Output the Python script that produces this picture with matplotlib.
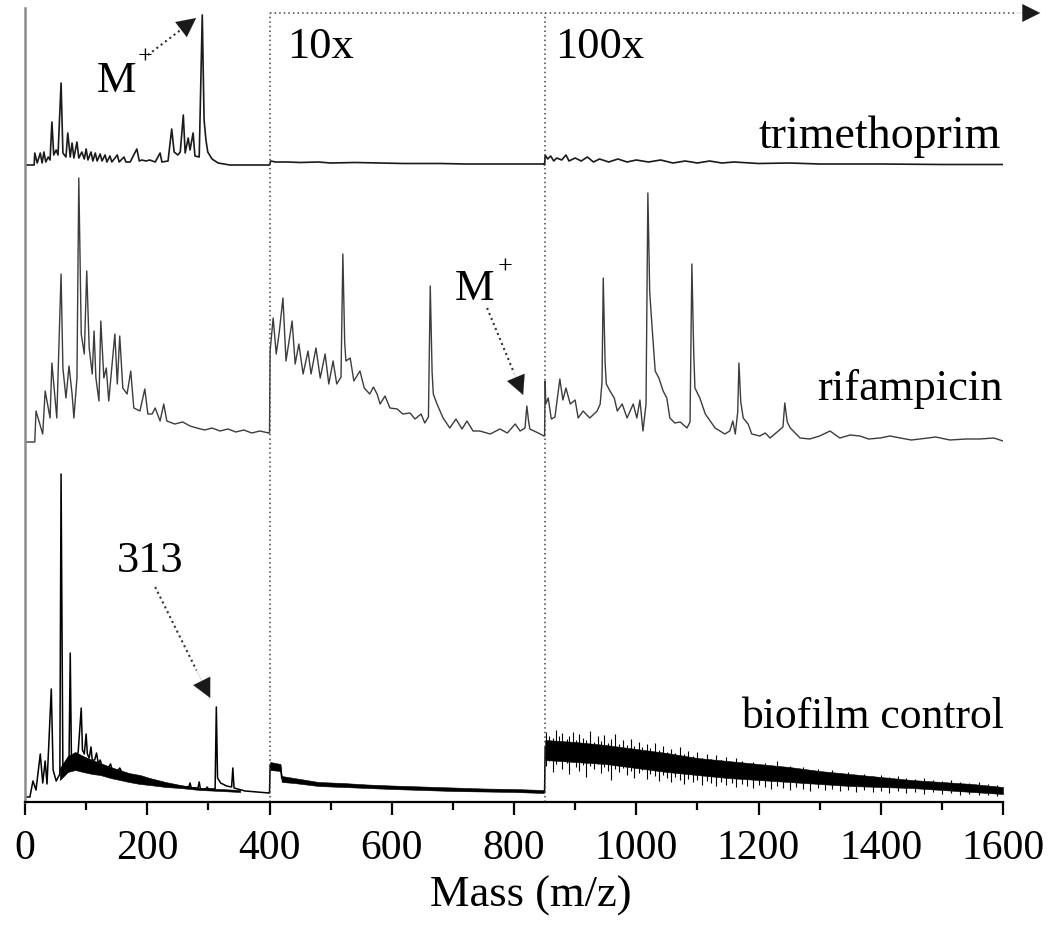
import numpy as np
import matplotlib
matplotlib.use('Agg')
import matplotlib.pyplot as plt
from matplotlib.ticker import MultipleLocator

plt.rcParams['font.family'] = ['Liberation Serif', 'DejaVu Serif']

# spectra: (m/z, intensity a.u.), each trace already scaled 1x / 10x / 100x
trimethoprim = [
    (0, 0), (15, 0), (16, 12), (20, 2), (25, 12), (28, 2), (31, 13), (34, 3), (38, 8), (41, 5),
    (44, 43), (47, 10), (51, 15), (54, 10), (59, 82), (62, 12), (67, 8), (70, 32), (74, 8),
    (77, 22), (80, 7), (85, 23), (88, 7), (93, 13), (97, 6), (100, 16), (103, 5), (108, 13),
    (111, 4), (115, 12), (118, 4), (123, 11), (126, 4), (131, 10), (134, 3), (139, 9), (142, 3),
    (151, 10), (154, 3), (162, 8), (165, 3), (172, 3), (183, 16), (187, 4), (191, 5), (198, 4),
    (204, 5), (213, 3), (221, 12), (224, 3), (234, 4), (240, 36), (244, 13), (250, 10), (254, 13),
    (259, 50), (262, 12), (267, 27), (270, 15), (275, 32), (278, 9), (285, 8), (290, 150),
    (293, 45), (296, 25), (299, 13), (306, 6), (316, 2), (335, 0), (399, 0),
    (400, 0), (402, 4), (410, 3), (430, 3), (450, 2.5), (480, 3), (500, 2), (540, 2.5),
    (580, 2), (620, 1.5), (680, 1.5), (720, 1), (780, 1), (849, 1),
    (850, 0), (851, 10), (855, 6), (860, 9), (865, 4), (870, 7), (878, 5), (885, 10), (890, 4),
    (900, 7), (910, 4), (920, 8), (930, 3), (940, 6), (955, 3), (970, 6), (985, 3), (1000, 5),
    (1020, 3), (1040, 5), (1060, 2), (1080, 4), (1100, 2), (1120, 4), (1140, 2), (1160, 3),
    (1200, 1.5), (1250, 2), (1300, 1), (1400, 1), (1500, 0.5), (1600, 0.5),
]

rifampicin = [
    (0, 0), (16, 0), (18, 31), (29, 8), (33, 51), (41, 24), (44, 79), (52, 24), (59, 168),
    (62, 74), (67, 44), (72, 76), (77, 48), (80, 24), (85, 64), (88, 264), (92, 108), (97, 88),
    (101, 171), (105, 94), (110, 68), (113, 111), (116, 64), (121, 41), (124, 121), (129, 64),
    (133, 74), (137, 41), (142, 74), (147, 108), (151, 58), (155, 106), (160, 54), (167, 48),
    (173, 71), (178, 34), (188, 31), (196, 53), (201, 28), (208, 28), (213, 34), (221, 21),
    (227, 38), (232, 21), (245, 18), (258, 20), (270, 16), (281, 14), (294, 12), (306, 14),
    (319, 11), (332, 13), (345, 10), (358, 12), (371, 9), (384, 11), (399, 9),
    (400, 9), (401, 91), (406, 124), (411, 88), (416, 110), (422, 144), (427, 81), (437, 121),
    (442, 78), (448, 98), (455, 68), (463, 91), (468, 68), (476, 94), (483, 64), (491, 88),
    (497, 58), (504, 81), (510, 58), (517, 65), (520, 188), (523, 100), (525, 81), (532, 84),
    (538, 61), (548, 71), (555, 54), (564, 48), (570, 55), (576, 48), (581, 38), (589, 46),
    (597, 34), (609, 33), (618, 28), (630, 29), (638, 23), (648, 28), (654, 19), (660, 25),
    (663, 156), (666, 70), (668, 48), (674, 38), (684, 24), (695, 14), (705, 23), (715, 13),
    (723, 21), (733, 11), (744, 11), (761, 8), (777, 13), (789, 9), (802, 18), (810, 11),
    (818, 14), (821, 36), (824, 20), (826, 13), (843, 8), (849, 6),
    (850, 6), (851, 61), (852, 38), (856, 44), (861, 23), (867, 25), (875, 63), (880, 42),
    (885, 54), (892, 38), (900, 42), (905, 24), (913, 31), (924, 24), (936, 31), (941, 38),
    (944, 60), (946, 164), (949, 80), (951, 58), (957, 51), (964, 44), (969, 31), (977, 38),
    (985, 24), (995, 38), (1001, 24), (1006, 42), (1011, 11), (1016, 38), (1019, 249),
    (1022, 150), (1026, 114), (1031, 71), (1037, 64), (1044, 51), (1050, 44), (1055, 24),
    (1063, 19), (1072, 20), (1083, 14), (1088, 20), (1091, 178), (1094, 90), (1096, 54),
    (1104, 44), (1113, 28), (1121, 21), (1129, 14), (1137, 11), (1145, 8), (1153, 11),
    (1158, 21), (1162, 8), (1166, 30), (1168, 79), (1171, 40), (1175, 24), (1183, 18),
    (1189, 8), (1202, 6), (1211, 9), (1219, 4), (1240, 15), (1243, 39), (1247, 20), (1252, 14),
    (1268, 4), (1284, 3), (1300, 6), (1317, 11), (1333, 4), (1350, 7), (1366, 6), (1380, 3),
    (1399, 4), (1415, 6), (1432, 4), (1450, 2), (1464, 3), (1490, 5), (1513, 2), (1540, 3),
    (1562, 3), (1585, 4), (1600, 1),
]

biofilm = [
    (0, 5), (8, 5), (13, 21), (18, 12), (25, 48), (29, 19), (33, 41), (36, 18), (43, 113),
    (46, 32), (51, 21), (57, 28), (59, 328), (62, 31), (67, 38), (72, 40), (74, 149), (76, 42),
    (80, 44), (84, 45), (87, 50), (92, 94), (94, 52), (97, 48), (100, 68), (102, 48), (105, 44),
    (108, 55), (110, 42), (114, 42), (117, 49), (120, 38), (123, 42), (126, 36), (130, 34),
    (135, 33), (140, 38), (143, 31), (150, 30), (155, 34), (160, 28), (170, 26), (180, 24),
    (190, 23), (200, 21), (220, 18), (240, 17), (260, 15), (268, 15), (270, 19), (272, 14),
    (283, 14), (285, 20), (287, 13), (296, 13), (298, 15), (300, 13), (311, 13), (313, 95),
    (315, 24), (320, 19), (330, 16), (338, 15), (340, 34), (342, 14), (360, 11), (380, 10),
    (399, 9),
    (400, 9), (401, 37), (410, 35), (418, 34), (420, 24), (430, 22), (450, 20), (480, 18),
    (500, 17), (530, 16), (560, 15), (600, 14), (650, 13), (700, 12), (750, 11), (800, 11),
    (849, 10),
    (850, 10), (851, 55), (900, 52), (950, 50), (1000, 47), (1050, 42), (1100, 37), (1150, 35),
    (1200, 32), (1250, 30), (1300, 27), (1350, 25), (1400, 22), (1450, 20), (1500, 18),
    (1550, 16), (1600, 13),
]

# dense noise core of the biofilm trace: (m/z, low, high)
biofilm_band_1x = [
    (57, 22, 34), (70, 30, 46), (82, 32, 50), (95, 30, 46), (110, 28, 42), (123, 27, 39),
    (140, 24, 35), (155, 22, 32), (170, 20, 29), (188, 18, 27), (204, 17, 24), (230, 15, 20),
    (254, 14, 17), (286, 12, 14), (320, 11, 13), (352, 10, 12),
]
biofilm_band_10x = [
    (401, 32, 40), (418, 31, 38), (420, 20, 26), (440, 19, 24), (480, 16, 20), (520, 15, 19),
    (560, 14, 17.5), (600, 13, 16.5), (650, 12, 15.5), (700, 11, 14.5), (750, 10.5, 13.5),
    (800, 10, 13), (849, 9, 12),
]
biofilm_band_100x = [
    (851, 42, 62), (900, 40, 60), (950, 38, 57), (1000, 34, 53), (1050, 30, 49), (1100, 27, 44),
    (1150, 24, 41), (1200, 22, 38), (1250, 20, 35), (1300, 18, 31), (1350, 16, 28),
    (1400, 15, 25), (1450, 14, 22), (1500, 12, 20), (1550, 10, 18), (1600, 8, 15),
]
biofilm_spikes = [
    (853, 36, 70), (858, 41, 66), (864, 30, 64), (869, 38, 72), (874, 42, 66), (879, 33, 69),
    (886, 39, 63), (890, 28, 66), (896, 40, 70), (902, 35, 62), (907, 31, 68), (913, 37, 64),
    (918, 25, 62), (925, 36, 71), (931, 33, 60), (937, 38, 66), (942, 29, 61), (948, 35, 67),
    (953, 31, 59), (959, 22, 63), (965, 33, 68), (972, 30, 58), (978, 34, 62), (985, 27, 57),
    (991, 31, 63), (997, 24, 56), (1004, 29, 60), (1010, 32, 55), (1017, 23, 58),
    (1023, 28, 54), (1030, 26, 59), (1037, 21, 52), (1043, 27, 56), (1050, 24, 50),
    (1057, 20, 53), (1064, 25, 49), (1071, 22, 55), (1078, 18, 48), (1085, 23, 51),
    (1093, 20, 46), (1100, 22, 50), (1108, 17, 44), (1115, 21, 48), (1123, 19, 43),
    (1131, 16, 47), (1139, 20, 42), (1147, 17, 45), (1156, 19, 40), (1164, 15, 44),
    (1173, 18, 41), (1182, 16, 38), (1191, 14, 40), (1200, 17, 37), (1210, 15, 39),
    (1220, 13, 36), (1230, 16, 41), (1240, 14, 35), (1251, 12, 36), (1262, 15, 33),
    (1273, 13, 35), (1285, 11, 31), (1297, 14, 33), (1309, 12, 30), (1321, 13, 32),
    (1334, 11, 29), (1347, 12, 30), (1360, 10, 27), (1373, 12, 28), (1387, 10, 26),
    (1400, 11, 27), (1414, 9, 25), (1428, 11, 26), (1442, 9, 24), (1456, 10, 23),
    (1470, 8, 24), (1485, 10, 22), (1500, 8, 21), (1515, 9, 22), (1530, 7, 20), (1545, 8, 19),
    (1560, 7, 20), (1575, 7, 18), (1590, 6, 17),
]

offsets = {'trimethoprim': 637, 'rifampicin': 360, 'biofilm control': 0}
breaks = [400, 850]
zoom_labels = ['10x', '100x']


def dotted_arrow(ax, tail, tip, lw=1.5, head=34):
    """dotted shaft with a solid filled head"""
    tx, ty = tail
    hx, hy = tip
    nx, ny = hx - (hx - tx) * 0.25, hy - (hy - ty) * 0.25
    ax.plot([tx, nx], [ty, ny], ls=(0, (1, 1.6)), color='#333333', lw=lw, clip_on=False)
    ax.annotate('', xy=tip, xytext=(nx, ny), annotation_clip=False,
                arrowprops=dict(arrowstyle='-|>', color='#1a1a1a', lw=0.1,
                                mutation_scale=head, shrinkA=0, shrinkB=0))


fig = plt.figure(figsize=(10.5, 9.25), dpi=100)
ax = fig.add_axes([25 / 1050, 123 / 925, 978 / 1050, 794 / 925])

for data, name, col, lw in [(trimethoprim, 'trimethoprim', '#1a1a1a', 1.2),
                            (rifampicin, 'rifampicin', '#3c3c3c', 1.0),
                            (biofilm, 'biofilm control', '#000000', 1.1)]:
    mz, inten = np.array(data).T
    ax.plot(mz, inten + offsets[name], color=col, lw=lw)

for band in [biofilm_band_1x, biofilm_band_10x, biofilm_band_100x]:
    mz, lo, hi = np.array(band).T
    ax.fill_between(mz, lo, hi, color='black', lw=0.4)
mz, lo, hi = np.array(biofilm_spikes).T
ax.vlines(mz, lo, hi, color='black', lw=0.8)

# scaling regions
top = 789
for b in breaks:
    ax.plot([b, b], [0, top], ls=(0, (1, 2)), color='#444444', lw=1.1)
ax.plot([400, 1620], [top, top], ls=(0, (1, 2)), color='#444444', lw=1.1, clip_on=False)
ax.annotate('', xy=(1661, top), xytext=(1620, top), annotation_clip=False,
            arrowprops=dict(arrowstyle='-|>', color='#1a1a1a', lw=0.1,
                            mutation_scale=32, shrinkA=0, shrinkB=0))
ax.text(429, 744, zoom_labels[0], fontsize=32, va='baseline')
ax.text(867, 744, zoom_labels[1], fontsize=32, va='baseline')

# trace names
ax.text(1597, 654, 'trimethoprim', fontsize=33, ha='right', va='baseline')
ax.text(1600, 402, 'rifampicin', fontsize=32, ha='right', va='baseline')
ax.text(1602, 74, 'biofilm control', fontsize=31.5, ha='right', va='baseline')

# peak annotations
ax.text(118, 710, 'M', fontsize=32, va='baseline')
ax.text(196, 744, '+', fontsize=19, ha='center', va='center')
dotted_arrow(ax, (201, 747), (280, 784))

ax.text(703, 502, 'M', fontsize=32, va='baseline')
ax.text(785, 534, '+', fontsize=19, ha='center', va='center')
dotted_arrow(ax, (756, 494), (815, 407))

ax.text(150, 230, '313', fontsize=32, va='baseline')
dotted_arrow(ax, (213, 215), (303, 104))

ax.set_xlim(0, 1600)
ax.set_ylim(0, 794)
ax.spines['top'].set_visible(False)
ax.spines['right'].set_visible(False)
ax.spines['bottom'].set_linewidth(1.6)
ax.spines['left'].set_linewidth(1.8)
ax.spines['left'].set_color('#8c8c8c')
ax.set_yticks([])
ax.xaxis.set_major_locator(MultipleLocator(200))
ax.xaxis.set_minor_locator(MultipleLocator(100))
ax.tick_params(axis='x', which='major', direction='out', length=9, width=1.6,
               labelsize=30, pad=11)
ax.tick_params(axis='x', which='minor', direction='out', length=5.5, width=1.6)
ax.set_xlabel('Mass (m/z)', fontsize=32)
ax.xaxis.label.set_va('baseline')
ax.xaxis.set_label_coords((531 - 25) / 978, -(907 - 802) / 794)

fig.savefig('out.png', dpi=100)
